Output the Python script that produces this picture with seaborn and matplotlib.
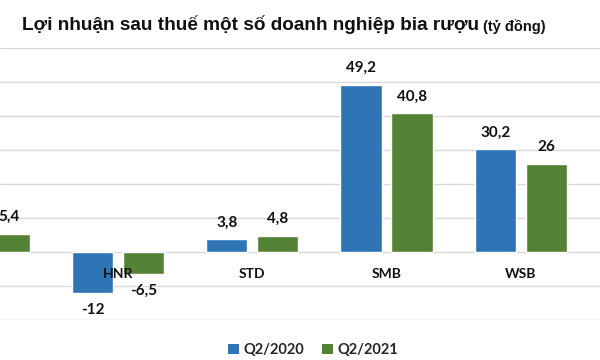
import numpy as np
import pandas as pd
import matplotlib
matplotlib.use("Agg")
import matplotlib.pyplot as plt
import seaborn as sns
from matplotlib.patches import Patch

# --- data ---
categories = ["?", "HNR", "STD", "SMB", "WSB"]   # first company is cut off in the reference
q2_2020 = [np.nan, -12.0, 3.8, 49.2, 30.2]          # first value not visible
q2_2021 = [5.4, -6.5, 4.8, 40.8, 26.0]
series_names = ["Q2/2020", "Q2/2021"]
title_main = "Lợi nhuận sau thuế một số doanh nghiệp bia rượu"
title_unit = "(tỷ đồng)"

df = pd.DataFrame({
    "cat": categories * 2,
    "val": q2_2020 + q2_2021,
    "series": [series_names[0]] * len(categories) + [series_names[1]] * len(categories),
}).dropna()

sns.set_theme(style="white")
plt.rcParams["font.family"] = ["Lato", "DejaVu Sans"]

fig = plt.figure(figsize=(6, 3.6), dpi=100)
ax = fig.add_axes([0.0, 1 - 320 / 360, 1.0, (320 - 48) / 360])

palette = {"Q2/2020": "#2E75B6", "Q2/2021": "#548235"}
sns.barplot(data=df, x="cat", y="val", hue="series", order=categories,
            hue_order=series_names, palette=palette, width=0.76, gap=0.19,
            saturation=1, legend=False, ax=ax)

ax.set_ylim(-20, 60)
ax.set_xlim(0.121, 4.59)
ax.set_yticks(np.arange(-20, 61, 10))
ax.yaxis.grid(True, color="#D9D9D9", linewidth=1.0)
ax.set_axisbelow(True)
ax.xaxis.set_zorder(5)
ax.tick_params(axis="y", left=False, labelleft=False)
for s in ax.spines.values():
    s.set_visible(False)
ax.spines["bottom"].set_position(("data", 0))
ax.tick_params(axis="x", length=0, pad=11.5, labelsize=10, labelcolor="#111111")
for t in ax.get_xticklabels():
    t.set_fontweight("bold")
ax.set_xlabel("")
ax.set_ylabel("")

fmt = lambda v: f"{v:g}".replace(".", ",")
for cont in ax.containers:
    ax.bar_label(cont, fmt=fmt, padding=7, fontsize=11, fontweight="bold",
                 color="#111111")

# title
t_main = fig.text(22 / 600, 1 - 30 / 360, title_main, fontsize=13.7, fontweight="bold",
                  family=["Liberation Sans", "DejaVu Sans"], color="#111111", va="baseline")
fig.canvas.draw()
ax.annotate(title_unit, xy=(1, 0), xycoords=t_main, xytext=(3, 0),
            textcoords="offset points", fontsize=10.5, fontweight="bold",
            family=["Liberation Sans", "DejaVu Sans"], color="#111111",
            va="bottom", ha="left", annotation_clip=False)

# legend
handles = [Patch(facecolor=palette[n], edgecolor="none", label=n) for n in series_names]
fig.legend(handles=handles, loc="center", bbox_to_anchor=(313 / 600, 1 - 350 / 360),
           ncol=2, frameon=False, handlelength=0.75, handleheight=0.75,
           handletextpad=0.3, columnspacing=1.2,
           prop={"weight": "bold", "size": 10.5})

fig.savefig("out.png", dpi=100)
